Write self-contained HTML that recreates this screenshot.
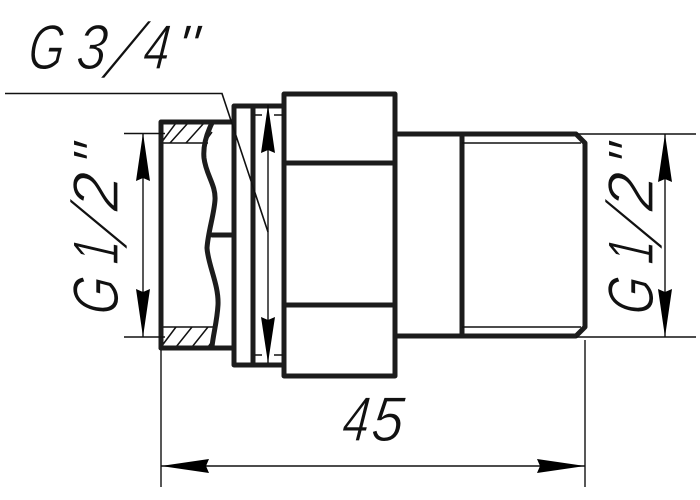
<!DOCTYPE html>
<html>
<head>
<meta charset="utf-8">
<style>
html,body{margin:0;padding:0;background:#fff;}
svg{display:block;}
text{font-family:"Liberation Sans",sans-serif;font-style:italic;font-size:60px;fill:#111;stroke:#fff;stroke-width:1.1px;}
text.s{font-style:normal;stroke-width:1.6px;}
</style>
</head>
<body>
<svg width="700" height="500" viewBox="0 0 700 500" xmlns="http://www.w3.org/2000/svg">
<rect width="700" height="500" fill="#fff"/>

<!-- hatching -->
<g stroke="#111" stroke-width="1.5" fill="none">
<path d="M161 143L176 123M170 143L188 123M186 143L204 123M204 143L212 132"/>
<path d="M161 347L176 327M176 347L192 327M192 347L208 327M208 347L214 339"/>
<path d="M161 143H208M161 327H214"/>
</g>

<!-- thick outlines -->
<g stroke="#1c1c1c" stroke-width="5" fill="none" stroke-linejoin="round" stroke-linecap="round">
<path d="M161 348V122H233"/>
<path d="M161 348H233"/>
<path d="M212 123C206 135 203 147 204 158C206 175 216 185 215 200C214 215 208 232 207 248C208 265 219 285 218 305C217 322 213 335 212 347"/>
<path d="M212 235H233"/>
<path d="M234 106H283M234 365H283M234 106V365"/>
<path d="M253 106V365"/>
<path d="M284 94H395V376H284Z"/>
<path d="M284 163H395M284 305H395"/>
<path d="M395 134H576L585 143V327L576 336H395"/>
<path d="M462 134V336"/>
</g>

<!-- thin lines -->
<g stroke="#111" stroke-width="1.4" fill="none">
<path d="M124 133.500H165M124 337H165"/>
<path d="M576 134H696M576 337H696"/>
<path d="M143 133V337M268 105V363M665 134V337"/>
<path d="M161 350V487M585 340V487"/>
<path d="M161 466H585"/>
<path d="M462 143H581M462 327H581"/>
<path d="M255 115H262M274 115H283M255 355H262M274 355H283"/>
<path d="M5 93.500H222L268 232" stroke-width="1.6"/>
</g>

<!-- arrowheads -->
<g fill="#000">
<path d="M143 133L150 181L143 178L136 181Z"/>
<path d="M143 337L150 289L143 292L136 289Z"/>
<path d="M268 105L275 153L268 150L261 153Z"/>
<path d="M268 363L275 317L268 320L261 317Z"/>
<path d="M665 134L672 182L665 179L658 182Z"/>
<path d="M665 337L672 289L665 292L658 289Z"/>
<path d="M161 466L209 459L206 466L209 473Z"/>
<path d="M585 466L537 459L540 466L537 473Z"/>
</g>

<!-- labels -->
<text transform="translate(27,69) skewX(-6) scale(.76,1.06)">G</text>
<text transform="translate(75,69) skewX(-6) scale(.9,1.06)">3</text>
<text class="s" transform="translate(100,78) skewX(-32) scale(1,1.33)">/</text>
<text transform="translate(142,69) skewX(-6) scale(.78,1.06)">4</text>
<text transform="translate(174,69) skewX(-6) scale(1.05,1.06)">"</text>

<g transform="translate(118,315) rotate(-90)">
<text transform="translate(-1,0) skewX(-6) scale(.8,1.08)">G</text>
<text transform="translate(50,0) skewX(-6) scale(.72,1.08)">1</text>
<text class="s" transform="translate(65,9) skewX(-32) scale(1,1.33)">/</text>
<text transform="translate(103,0) skewX(-6) scale(1.1,1.08)">2</text>
<text transform="translate(147,0) skewX(-6) scale(1,1.08)">"</text>
</g>

<g transform="translate(653,315) rotate(-90)">
<text transform="translate(-1,0) skewX(-6) scale(.8,1.08)">G</text>
<text transform="translate(50,0) skewX(-6) scale(.72,1.08)">1</text>
<text class="s" transform="translate(65,9) skewX(-32) scale(1,1.33)">/</text>
<text transform="translate(103,0) skewX(-6) scale(1.1,1.08)">2</text>
<text transform="translate(147,0) skewX(-6) scale(1,1.08)">"</text>
</g>

<text transform="translate(341,441) skewX(-6) scale(.8,1.06)">4</text>
<text transform="translate(370,441) skewX(-6) scale(.95,1.06)">5</text>
</svg>
</body>
</html>
